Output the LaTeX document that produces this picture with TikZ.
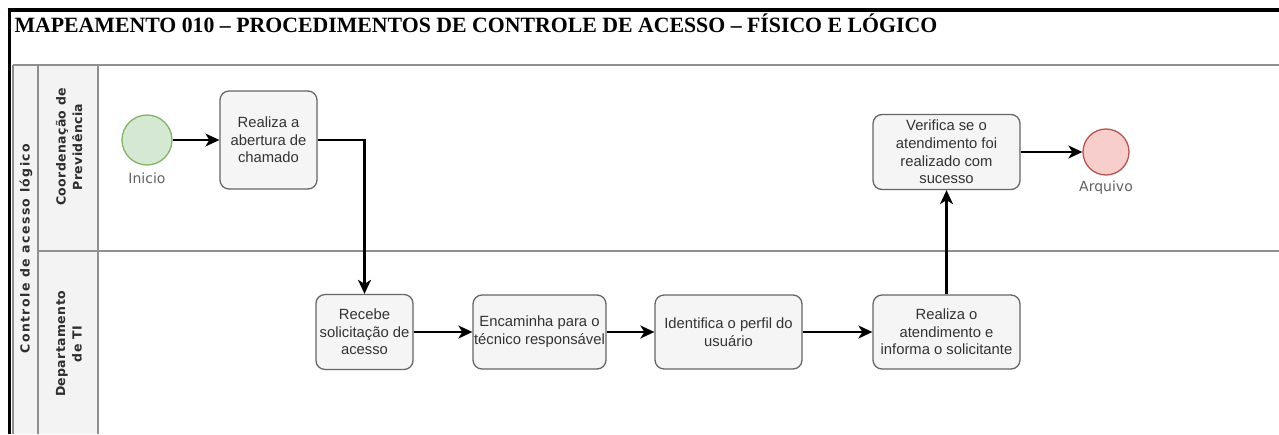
\documentclass[tikz,border=0pt]{standalone}
\usepackage{fontspec}
\setmainfont{Liberation Serif}
\setsansfont{Liberation Sans}
\newfontfamily\lanefont[LetterSpace=3]{DejaVu Sans}
\newfontfamily\poolfont[LetterSpace=11]{DejaVu Sans}
\newfontfamily\eventfont{DejaVu Sans}
\usetikzlibrary{positioning,arrows.meta}
\definecolor{taskfill}{HTML}{F5F5F5}
\definecolor{taskline}{HTML}{666666}
\definecolor{tasktext}{HTML}{333333}
\definecolor{startfill}{HTML}{D5E8D4}
\definecolor{startline}{HTML}{82B366}
\definecolor{endfill}{HTML}{F8CECC}
\definecolor{endline}{HTML}{B85450}
\definecolor{poolline}{HTML}{8F8F8F}
\definecolor{poolfill}{HTML}{F3F3F3}
\tikzset{
    task/.style = {
        draw=taskline,
        fill=taskfill,
        text=tasktext,
        shape=rectangle,
        rounded corners=9pt,
        line width=1.3pt,
        inner sep=0pt,
        align=center,
        font=\sffamily\fontsize{14.8}{17.7}\selectfont
    },
    startev/.style = {
        draw=startline,
        fill=startfill,
        shape=circle,
        minimum size=50pt,
        inner sep=0pt,
        line width=1.3pt
    },
    endev/.style = {
        draw=endline,
        fill=endfill,
        shape=circle,
        minimum size=46pt,
        inner sep=0pt,
        line width=1.3pt
    },
    evlabel/.style = {
        text=black!62,
        font=\eventfont\fontsize{14}{16}\selectfont
    },
    lanelabel/.style = {
        rotate=90,
        align=center,
        text=black!82,
        font=\lanefont\bfseries\fontsize{12.5}{16.5}\selectfont
    },
    poollabel/.style = {
        rotate=90,
        text=black!82,
        font=\poolfont\bfseries\fontsize{12.5}{16}\selectfont
    },
    lane/.style = {
        draw=poolline,
        line width=2.4pt
    },
    flow/.style = {
        draw,
        line width=2.2pt,
        -{Stealth[length=14pt,width=13pt,inset=4pt]}
    },
}

\begin{document}
\begin{tikzpicture}[x=1pt,y=-1pt]
            \useasboundingbox (0,0) rectangle (1279,434);

            % page frame and title
            \draw[line width=3.5pt] (7.5,10) -- (1279,10);
            \draw[line width=3pt] (9,8.5) -- (9,434);
            \node[anchor=base west, font=\bfseries\fontsize{21.8}{26}\selectfont]
            (title) at (11,32) {MAPEAMENTO 010 – PROCEDIMENTOS DE CONTROLE DE ACESSO – FÍSICO E LÓGICO};

            % pool and lanes
            \fill[poolfill] (13,65) rectangle (98,434);
            \path[lane] (13,65) -- (1279,65);
            \path[lane] (13,65) -- (13,434);
            \path[lane] (38,65) -- (38,434);
            \path[lane] (98,65) -- (98,434);
            \path[lane] (38,251) -- (1279,251);
            \node[poollabel] (pool) at (26,248.5) {Controle de acesso lógico};
            \node[lanelabel] (coord) at (69,147) {Coordenação de\\Previdência};
            \node[lanelabel] (depti) at (69,344) {Departamento\\de TI};

            % events and tasks
            \node[startev] (inicio) at (147,140) {};
            \node[evlabel] (inicioname) at (147,178) {Inicio};
            \node[task, minimum width=97pt, minimum height=98pt] (abertura) at (268.5,140)
            {Realiza a\\abertura de\\chamado};
            \node[task, minimum width=97pt, minimum height=75pt] (recebe) at (364.5,332)
            {Recebe\\solicitação de\\acesso};
            \node[task, minimum width=133pt, minimum height=74pt] (encaminha) at (539.5,332)
            {Encaminha para o\\técnico responsável};
            \node[task, minimum width=147pt, minimum height=74pt] (perfil) at (728.5,332)
            {Identifica o perfil do\\usuário};
            \node[task, minimum width=147pt, minimum height=74pt] (atendimento) at (946.5,332)
            {Realiza o\\atendimento e\\informa o solicitante};
            \node[task, minimum width=147pt, minimum height=75pt] (verifica) at (946.5,152)
            {Verifica se o\\atendimento foi\\realizado com\\sucesso};
            \node[endev] (arquivo) at (1106,152) {};
            \node[evlabel] (arquivoname) at (1106,188) {Arquivo};

            % sequence flows
            \path[flow] (inicio) -- (abertura);
            \path[flow] (abertura) -| (recebe);
            \path[flow] (recebe) -- (encaminha);
            \path[flow] (encaminha) -- (perfil);
            \path[flow] (perfil) -- (atendimento);
            \path[flow] (atendimento) -- (verifica);
            \path[flow] (verifica) -- (arquivo);
        \end{tikzpicture}
\end{document}
